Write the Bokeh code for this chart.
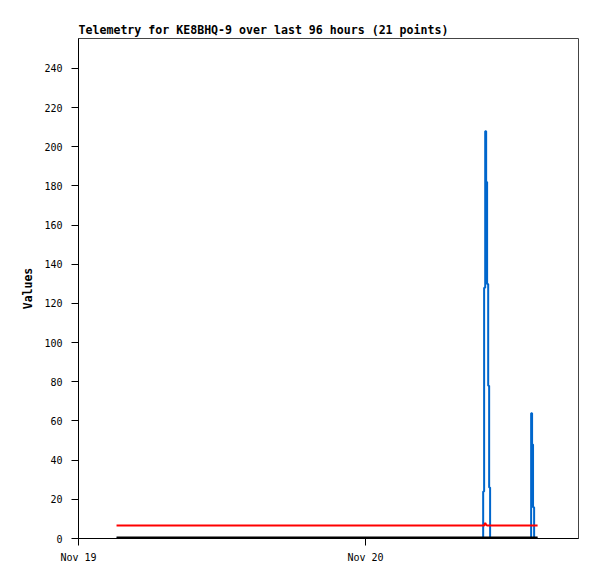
from datetime import datetime, timedelta
from bokeh.plotting import figure
from bokeh.models import Range1d, FixedTicker, ColumnDataSource
from bokeh.embed import file_html
from bokeh.resources import INLINE

title_text = "Telemetry for KE8BHQ-9 over last 96 hours (21 points)"
y_label = "Values"

# hours after Nov 19 00:00
hours = [3.18, 33.66, 33.74, 33.83, 33.91, 34.00, 34.08, 34.16, 34.25, 34.33,
         34.41, 34.50, 37.68, 37.76, 37.84, 37.92, 38.00, 38.09, 38.17, 38.30, 38.38]
blue_vals = [0, 0, 0, 24, 128, 208, 182, 130, 78, 26,
             0, 0, 0, 0, 64, 48, 16, 0, 0, 0, 0]
red_vals = [6.6, 6.6, 6.6, 6.6, 6.6, 8, 7, 6.6, 6.6, 6.6,
            6.6, 6.6, 6.6, 6.6, 6.6, 6.6, 6.6, 6.6, 6.6, 6.6, 6.6]
black_vals = [0.5] * 21

tick_days = ["2023-11-19", "2023-11-20"]
tick_labels = ["Nov 19", "Nov 20"]

base = datetime(2023, 11, 19)
times = [base + timedelta(hours=h) for h in hours]
src = ColumnDataSource(dict(t=times, blue=blue_vals, red=red_vals, black=black_vals))

x_start = base
x_end = base + timedelta(hours=41.8)

p = figure(width=589, height=571, x_axis_type="datetime",
           output_backend="svg", toolbar_location=None,
           x_range=Range1d(x_start, x_end), y_range=Range1d(0, 255.3),
           min_border_left=78, min_border_right=11, min_border_top=38,
           min_border_bottom=33)

p.step("t", "blue", source=src, line_color="#0066cc", line_width=2, mode="after")
p.line("t", "red", source=src, line_color="#ff0000", line_width=2)
p.line("t", "black", source=src, line_color="#000000", line_width=2)

p.title.text = title_text
p.title.text_font = "DejaVu Sans Mono"
p.title.text_font_size = "11.6px"
p.title.text_font_style = "bold"
p.title.text_color = "black"
p.title.align = "left"
p.title.offset = 0
p.title.standoff = 3

p.xgrid.visible = False
p.ygrid.visible = False
p.outline_line_color = "#444444"
p.outline_line_width = 1

tick_ms = [(datetime.strptime(d, "%Y-%m-%d") - datetime(1970, 1, 1)).total_seconds() * 1000 for d in tick_days]
p.xaxis.ticker = FixedTicker(ticks=tick_ms)
p.xaxis.major_label_overrides = {t: l for t, l in zip(tick_ms, tick_labels)}
p.yaxis.ticker = FixedTicker(ticks=list(range(0, 241, 20)))

for ax in (p.xaxis, p.yaxis):
    ax.axis_line_color = "black"
    ax.major_tick_line_color = "black"
    ax.major_tick_in = 0
    ax.major_tick_out = 7
    ax.minor_tick_line_color = None
    ax.major_label_text_font = "DejaVu Sans Mono"
    ax.major_label_text_font_size = "10px"
    ax.major_label_text_color = "black"

p.xaxis.major_label_standoff = 6
p.yaxis.major_label_standoff = 9
p.yaxis.axis_label = y_label
p.yaxis.axis_label_text_font = "DejaVu Sans Mono"
p.yaxis.axis_label_text_font_size = "11.5px"
p.yaxis.axis_label_text_font_style = "bold"
p.yaxis.axis_label_text_color = "black"
p.yaxis.axis_label_standoff = 6

open("out.html", "w").write(file_html(p, INLINE))
